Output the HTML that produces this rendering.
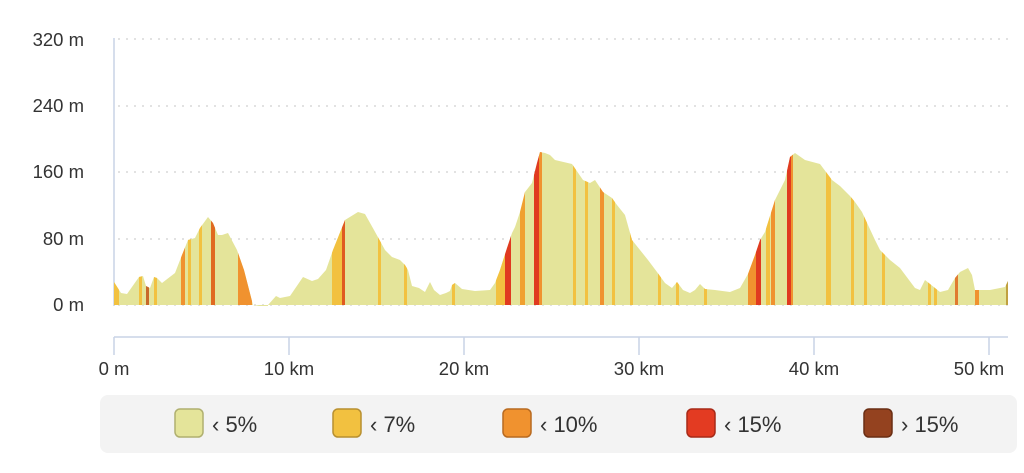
<!DOCTYPE html>
<html><head><meta charset="utf-8"><style>
html,body{margin:0;padding:0;background:#fff;width:1024px;height:473px;overflow:hidden}
svg text{font-family:"Liberation Sans",sans-serif;font-size:18.5px;fill:#333}
</style></head><body>
<svg width="1024" height="473" viewBox="0 0 1024 473" xmlns="http://www.w3.org/2000/svg">
<defs>
<clipPath id="c"><path id="prof" d="M114,282 L121,293 L127,294 L139,277 L143,276 L146,286 L150,288 L154,277 L157,278 L162,283 L175,273 L182,255 L188,240 L195,238 L200,228 L208,217 L213,223 L218,235 L222,235 L228,233 L237,250 L244,270 L253,305 L259,306 L268,306 L268,305 L276,296 L280,298 L290,296 L303,277 L312,281 L318,279 L326,270 L333,250 L345,220 L358,212 L365,214 L374,230 L385,250 L392,257 L400,260 L405,265 L408,270 L412,286 L419,288 L425,292 L430,282 L434,290 L440,295 L446,293 L450,291 L452,285 L455,283 L462,289 L475,291 L490,290 L495,283 L500,270 L507,248 L512,233 L515,227 L520,212 L525,192 L532,183 L537,163 L540,152 L545,153 L550,155 L555,160 L572,164 L583,180 L590,183 L595,180 L603,192 L612,198 L617,205 L625,215 L632,240 L640,250 L648,260 L657,272 L665,283 L672,288 L677,282 L683,290 L690,293 L695,290 L700,284 L705,289 L715,290 L730,292 L740,288 L748,274 L755,255 L760,240 L765,232 L775,200 L785,180 L790,157 L795,153 L805,160 L820,164 L832,180 L840,186 L850,196 L855,202 L862,212 L875,240 L880,250 L890,260 L900,268 L915,288 L920,290 L925,280 L930,284 L940,292 L948,290 L955,278 L960,272 L968,268 L972,275 L975,290 L990,290 L1005,287 L1008,281 L1008,305 L114,305 Z"/></clipPath>
</defs>
<g stroke="#d8d8d8" stroke-width="1.5" stroke-dasharray="2,6">
<line x1="118" y1="39" x2="1008" y2="39"/><line x1="118" y1="106" x2="1008" y2="106"/><line x1="118" y1="172" x2="1008" y2="172"/><line x1="118" y1="239" x2="1008" y2="239"/><line x1="118" y1="305" x2="1008" y2="305"/>
</g>
<line x1="114" y1="38" x2="114" y2="306" stroke="#c9d3e6" stroke-width="1.5"/>
<use href="#prof" fill="#e4e49a"/>
<g clip-path="url(#c)">
<rect x="114" y="150" width="5" height="160" fill="#f2c140"/>
<rect x="139" y="150" width="3" height="160" fill="#f2c140"/>
<rect x="146" y="150" width="3" height="160" fill="#c8682a"/>
<rect x="154" y="150" width="3" height="160" fill="#f2c140"/>
<rect x="181" y="150" width="4" height="160" fill="#f0922f"/>
<rect x="188" y="150" width="3" height="160" fill="#f2c140"/>
<rect x="199" y="150" width="3" height="160" fill="#f2c140"/>
<rect x="211" y="150" width="4" height="160" fill="#e06a20"/>
<rect x="238" y="150" width="14" height="160" fill="#f0922f"/>
<rect x="332" y="150" width="10" height="160" fill="#f2c140"/>
<rect x="342" y="150" width="3" height="160" fill="#e05a20"/>
<rect x="378" y="150" width="3" height="160" fill="#f2c140"/>
<rect x="404" y="150" width="3" height="160" fill="#f2c140"/>
<rect x="452" y="150" width="3" height="160" fill="#f2c140"/>
<rect x="496" y="150" width="9" height="160" fill="#f2c140"/>
<rect x="505" y="150" width="6" height="160" fill="#e03a20"/>
<rect x="520" y="150" width="5" height="160" fill="#f0a030"/>
<rect x="534" y="140" width="5" height="170" fill="#e03a20"/>
<rect x="539" y="140" width="3" height="170" fill="#f0922f"/>
<rect x="573" y="140" width="3" height="170" fill="#f2c140"/>
<rect x="585" y="140" width="3" height="170" fill="#f2c140"/>
<rect x="600" y="140" width="4" height="170" fill="#f0922f"/>
<rect x="612" y="140" width="3" height="170" fill="#f2c140"/>
<rect x="630" y="140" width="3" height="170" fill="#f2c140"/>
<rect x="658" y="140" width="3" height="170" fill="#f2c140"/>
<rect x="676" y="140" width="3" height="170" fill="#f2c140"/>
<rect x="704" y="140" width="3" height="170" fill="#f2c140"/>
<rect x="748" y="140" width="8" height="170" fill="#f0922f"/>
<rect x="756" y="140" width="5" height="170" fill="#e03a20"/>
<rect x="766" y="140" width="4" height="170" fill="#f2c140"/>
<rect x="771" y="140" width="4" height="170" fill="#f0922f"/>
<rect x="787" y="140" width="4" height="170" fill="#e03a20"/>
<rect x="791" y="140" width="2" height="170" fill="#f0922f"/>
<rect x="826" y="140" width="5" height="170" fill="#f2c140"/>
<rect x="851" y="140" width="3" height="170" fill="#f2c140"/>
<rect x="864" y="140" width="3" height="170" fill="#f2c140"/>
<rect x="882" y="140" width="3" height="170" fill="#f2c140"/>
<rect x="928" y="140" width="3" height="170" fill="#f2c140"/>
<rect x="934" y="140" width="3" height="170" fill="#f2c140"/>
<rect x="955" y="140" width="3" height="170" fill="#e07a30"/>
<rect x="975" y="140" width="4" height="170" fill="#f0922f"/>
<rect x="1006" y="140" width="2" height="170" fill="#c0a040"/>
</g>
<g stroke="#c9d3e6" stroke-width="1.5">
<line x1="114" y1="337" x2="1008" y2="337"/>
<line x1="114" y1="337" x2="114" y2="355"/><line x1="289" y1="337" x2="289" y2="355"/><line x1="464" y1="337" x2="464" y2="355"/><line x1="639" y1="337" x2="639" y2="355"/><line x1="814" y1="337" x2="814" y2="355"/><line x1="989" y1="337" x2="989" y2="355"/>
</g>
<g text-anchor="end">
<text x="84" y="40" dy="6">320 m</text><text x="84" y="106" dy="6">240 m</text><text x="84" y="172" dy="6">160 m</text><text x="84" y="239" dy="6">80 m</text><text x="84" y="305" dy="6">0 m</text>
</g>
<g text-anchor="middle">
<text x="114" y="375">0 m</text><text x="289" y="375">10 km</text><text x="464" y="375">20 km</text><text x="639" y="375">30 km</text><text x="814" y="375">40 km</text><text x="979" y="375">50 km</text>
</g>
<rect x="100" y="395" width="917" height="58" rx="8" fill="#f3f3f3"/>
<g stroke-width="1.5">
<rect x="175" y="409" width="28" height="28" rx="5" fill="#e4e49a" stroke="#b0b070"/>
<rect x="333" y="409" width="28" height="28" rx="5" fill="#f2c140" stroke="#b89030"/>
<rect x="503" y="409" width="28" height="28" rx="5" fill="#f0922f" stroke="#b86a20"/>
<rect x="687" y="409" width="28" height="28" rx="5" fill="#e33b22" stroke="#a82a18"/>
<rect x="864" y="409" width="28" height="28" rx="5" fill="#94421f" stroke="#6a2e14"/>
</g>
<text x="212" y="432" style="font-size:22px">‹ 5%</text>
<text x="370" y="432" style="font-size:22px">‹ 7%</text>
<text x="540" y="432" style="font-size:22px">‹ 10%</text>
<text x="724" y="432" style="font-size:22px">‹ 15%</text>
<text x="901" y="432" style="font-size:22px">› 15%</text>
</svg>
</body></html>
